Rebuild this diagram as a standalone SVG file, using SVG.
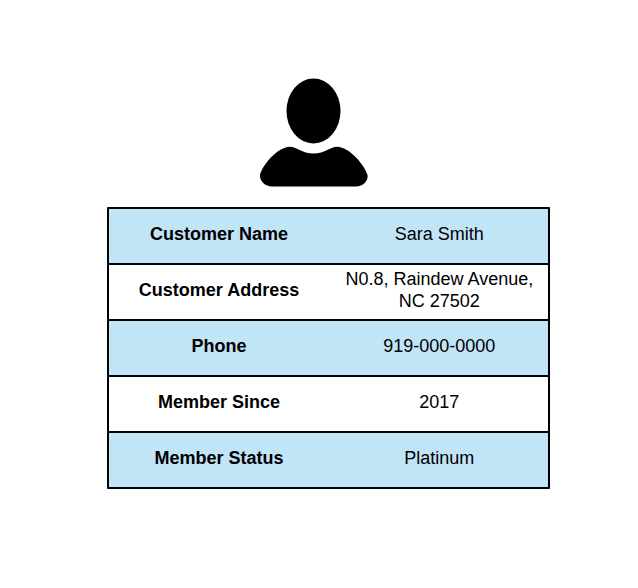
<svg xmlns="http://www.w3.org/2000/svg" width="638" height="588" viewBox="0 0 638 588">
<style>
.row{stroke:#000;stroke-width:2;stroke-linejoin:round}
.blue{fill:#c1e4f7}
.white{fill:#fff}
text{font-family:"Liberation Sans",Arial,sans-serif;font-size:18px;text-anchor:middle;fill:#000}
.k{font-weight:bold}
</style>
<rect width="638" height="588" fill="#fff"/>
<g id="user-icon" fill="#000">
<ellipse cx="313.500" cy="111" rx="27" ry="32.500"/>
<path d="M260 175C262 166 277 147 290 146.800C296 146.800 302 153.500 313.500 153.500C325 153.500 331 146.800 337 146.800C350 147 365 166 367.500 175C368.500 181 363 186.500 356 186.500L272 186.500C265 186.500 259.500 181 260 175Z"/>
</g>
<g id="row-name">
<rect class="row blue" x="108" y="208" width="441" height="56"/>
<text class="k" x="219" y="239.500">Customer Name</text>
<text x="439.300" y="239.500">Sara Smith</text>
</g>
<g id="row-address">
<rect class="row white" x="108" y="264" width="441" height="56"/>
<text class="k" x="219" y="295.500">Customer Address</text>
<text x="439.300" y="285">N0.8, Raindew Avenue,</text>
<text x="439.300" y="306.500">NC 27502</text>
</g>
<g id="row-phone">
<rect class="row blue" x="108" y="320" width="441" height="56"/>
<text class="k" x="219" y="351.500">Phone</text>
<text x="439.300" y="351.500">919-000-0000</text>
</g>
<g id="row-since">
<rect class="row white" x="108" y="376" width="441" height="56"/>
<text class="k" x="219" y="407.500">Member Since</text>
<text x="439.300" y="407.500">2017</text>
</g>
<g id="row-status">
<rect class="row blue" x="108" y="432" width="441" height="56"/>
<text class="k" x="219" y="463.500">Member Status</text>
<text x="439.300" y="463.500">Platinum</text>
</g>
<g id="connectors"/>
</svg>
